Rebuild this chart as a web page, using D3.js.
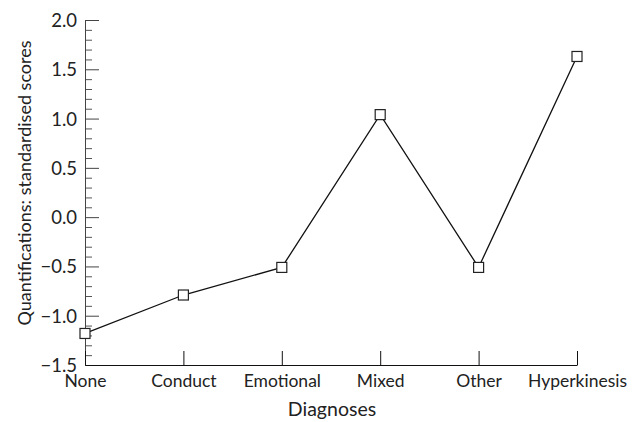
<!DOCTYPE html>
<html>
<head>
<meta charset="utf-8">
<script src="https://cdn.jsdelivr.net/npm/d3@7"></script>
<style>
  html, body { margin: 0; padding: 0; background: #fff; }
  svg { display: block; }
  text { font-family: "Lato", "DejaVu Sans", sans-serif; fill: #222; }
</style>
</head>
<body>
<script>
const categories = ["None", "Conduct", "Emotional", "Mixed", "Other", "Hyperkinesis"];
const values = [-1.18, -0.79, -0.51, 1.04, -0.51, 1.63];
const yTicks = [-1.5, -1.0, -0.5, 0.0, 0.5, 1.0, 1.5, 2.0];
const xTitle = "Diagnoses";
const yTitle = "Quantifications: standardised scores";

const W = 635, H = 422;
const svg = d3.select("body").append("svg").attr("width", W).attr("height", H);

const x = d3.scalePoint().domain(categories).range([85, 577]).padding(0);
const y = d3.scaleLinear().domain([-1.5, 2.0]).range([365, 20]);

// y minor ticks
const minor = d3.range(-15, 21).map(d => d / 10).filter(v => !yTicks.some(t => Math.abs(t - v) < 1e-9));
svg.append("g").attr("transform", `translate(${x(categories[0])},0)`)
  .call(d3.axisRight(y).tickValues(minor).tickSize(7).tickFormat(""))
  .call(g => g.select(".domain").remove())
  .call(g => g.selectAll("line").attr("stroke", "#555"));

// y axis major
const yAxis = svg.append("g").attr("transform", `translate(${x(categories[0])},0)`)
  .call(d3.axisRight(y).tickValues(yTicks).tickSize(14).tickSizeOuter(0)
    .tickFormat(d => d3.format(".1f")(d).replace("-", "\u2013")));
yAxis.select(".domain").attr("stroke", "#444");
yAxis.selectAll("line").attr("stroke", "#444");
yAxis.selectAll("text")
  .attr("x", -8).attr("dy", "0.35em").attr("text-anchor", "end")
  .style("font-size", "18.5px").style("font-family", "Lato, sans-serif").attr("fill", "#222");

// x axis
const xAxis = svg.append("g").attr("transform", `translate(0,${y(-1.5)})`)
  .call(d3.axisTop(x).tickSize(14).tickSizeOuter(0));
xAxis.select(".domain").attr("stroke", "#111");
xAxis.selectAll("line").attr("stroke", "#111");
xAxis.selectAll("text").attr("y", 22).attr("dy", 0)
  .style("font-size", "17.5px").style("font-family", "Lato, sans-serif").attr("fill", "#222");

// line
const line = d3.line().x((d, i) => x(categories[i])).y(d => y(d));
svg.append("path").datum(values).attr("d", line)
  .attr("fill", "none").attr("stroke", "#111").attr("stroke-width", 1.3);

// markers
const s = 10;
svg.append("g").selectAll("rect").data(values).join("rect")
  .attr("x", (d, i) => x(categories[i]) - s / 2)
  .attr("y", d => y(d) - s / 2)
  .attr("width", s).attr("height", s)
  .attr("fill", "#fff").attr("stroke", "#222").attr("stroke-width", 1.2);

// titles
svg.append("text").attr("x", 332).attr("y", 416)
  .attr("text-anchor", "middle").style("font-size", "19.5px").text(xTitle);
svg.append("text").attr("transform", `translate(31,183) rotate(-90)`)
  .attr("text-anchor", "middle").style("font-size", "18px").text(yTitle);
</script>
</body>
</html>
